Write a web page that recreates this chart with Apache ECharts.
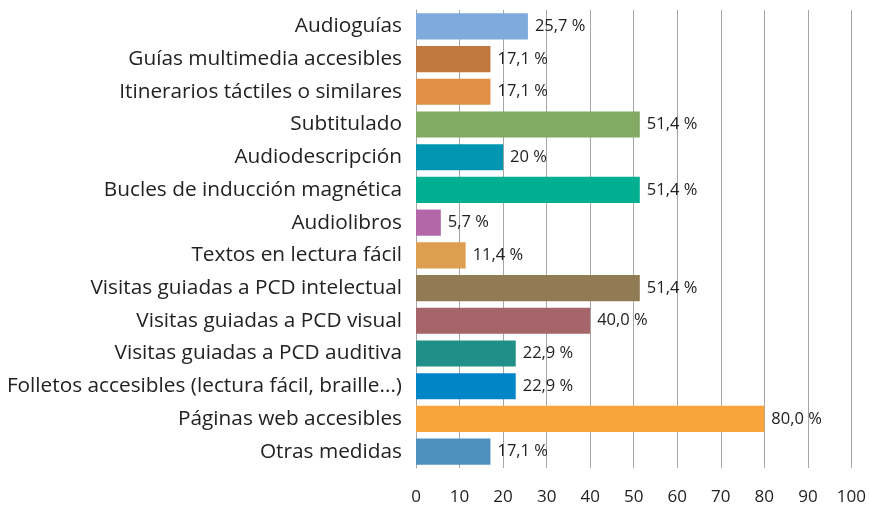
<!DOCTYPE html>
<html lang="es">
<head>
    <meta charset="utf-8">
    <title>Medidas de accesibilidad</title>
    <script src="https://cdn.jsdelivr.net/npm/echarts@6/dist/echarts.min.js"></script>
    <style>
        html, body { margin: 0; padding: 0; background: #fff; }
        #main { width: 869px; height: 508px; }
    </style>
</head>
<body>
<div id="main"></div>
<script>
    // categorías (de arriba a abajo)
    var categorias = [
        'Audioguías',
        'Guías multimedia accesibles',
        'Itinerarios táctiles o similares',
        'Subtitulado',
        'Audiodescripción',
        'Bucles de inducción magnética',
        'Audiolibros',
        'Textos en lectura fácil',
        'Visitas guiadas a PCD intelectual',
        'Visitas guiadas a PCD visual',
        'Visitas guiadas a PCD auditiva',
        'Folletos accesibles (lectura fácil, braille...)',
        'Páginas web accesibles',
        'Otras medidas'
    ];
    var valores = [25.7, 17.1, 17.1, 51.4, 20, 51.4, 5.7, 11.4, 51.4, 40.0, 22.9, 22.9, 80.0, 17.1];
    var etiquetas = ['25,7 %', '17,1 %', '17,1 %', '51,4 %', '20 %', '51,4 %', '5,7 %', '11,4 %',
        '51,4 %', '40,0 %', '22,9 %', '22,9 %', '80,0 %', '17,1 %'];
    var colores = ['#7eaadc', '#c0783f', '#e08f45', '#82aa62', '#0095b0', '#00ae90', '#b268a8',
        '#de9e4f', '#917b55', '#a6646b', '#1f8f87', '#0085c8', '#f9a53c', '#4e90be'];
    var ticksX = [0, 10, 20, 30, 40, 50, 60, 70, 80, 90, 100];

    var datos = [];
    for (var i = 0; i < valores.length; i++) {
        datos.push({ value: valores[i], itemStyle: { color: colores[i] } });
    }

    var myChart = echarts.init(document.getElementById('main'));
    var option = {
        animation: false,
        textStyle: { fontFamily: 'Open Sans' },
        grid: { left: 416, right: 17, top: 10, bottom: 40, containLabel: false },
        xAxis: {
            type: 'value',
            min: ticksX[0],
            max: ticksX[ticksX.length - 1],
            interval: 10,
            axisLine: { show: false },
            axisTick: { show: false },
            axisLabel: { color: '#222', fontSize: 17, margin: 21 },
            splitLine: { show: true, lineStyle: { color: '#a6a6a6', width: 1 } }
        },
        yAxis: {
            type: 'category',
            data: categorias,
            inverse: true,
            axisLine: { show: true, lineStyle: { color: '#a6a6a6' } },
            axisTick: { show: false },
            axisLabel: { color: '#222', fontSize: 20.8, margin: 14 }
        },
        series: [{
            type: 'bar',
            data: datos,
            barCategoryGap: '20%',
            label: {
                show: true,
                position: 'right',
                distance: 7,
                color: '#222',
                fontSize: 16.5,
                formatter: function (p) { return etiquetas[p.dataIndex]; }
            }
        }]
    };
    myChart.setOption(option);
</script>
</body>
</html>
